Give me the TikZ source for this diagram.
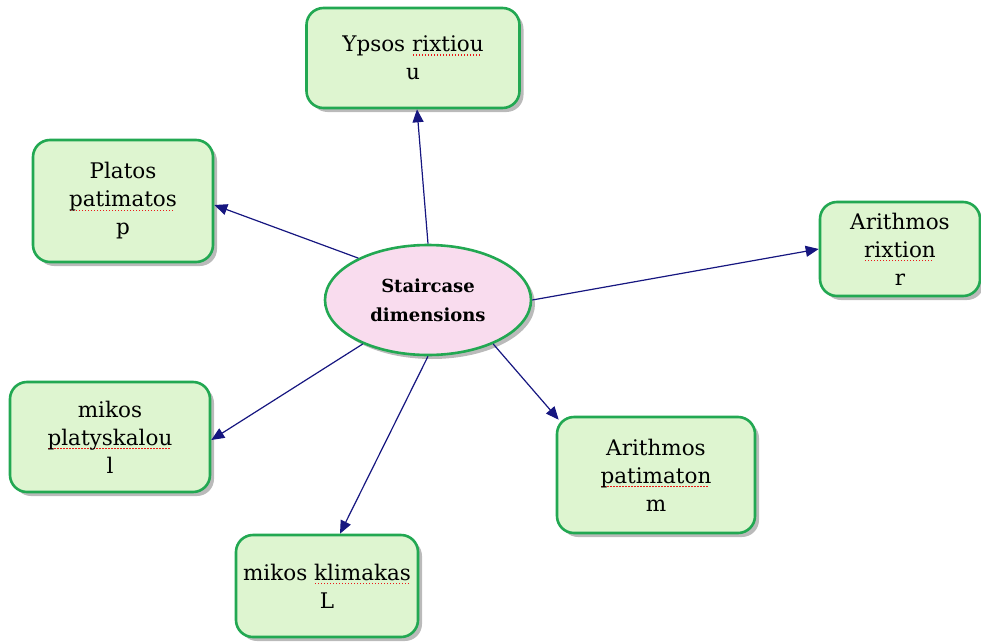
\documentclass[tikz,border=0pt]{standalone}
\usepackage{fontspec}
\setmainfont{DejaVu Serif}
\usetikzlibrary{shapes.geometric,shadows,arrows.meta}

\definecolor{boxgreen}{RGB}{34,168,82}
\definecolor{boxfill}{RGB}{222,245,208}
\definecolor{hubfill}{RGB}{249,220,238}
\definecolor{linkblue}{RGB}{22,22,128}
\definecolor{spellred}{RGB}{235,25,25}

% red dotted spelling mark under a word
\newcommand\spellmark[1]{%
  \setbox0\hbox{#1}%
  \rlap{\raisebox{-4pt}{\hbox to \wd0{\leaders\hbox to 3pt{\hss\textcolor{spellred}{\rule{1.4pt}{1.4pt}}\hss}\hfill}}}%
  \box0}

\tikzset{
  topic/.style={draw=boxgreen, line width=2.6pt, fill=boxfill, rounded corners=17pt,
    align=center, font=\fontsize{21.5}{28}\selectfont, inner sep=0pt,
    drop shadow={shadow xshift=4pt, shadow yshift=-4pt, opacity=.45, fill=black!60}},
  hub/.style={ellipse, draw=boxgreen, line width=2.6pt, fill=hubfill, align=center,
    font=\fontsize{18}{29}\selectfont\bfseries, inner sep=0pt,
    drop shadow={shadow xshift=4pt, shadow yshift=-4pt, opacity=.45, fill=black!60}},
  link/.style={draw=linkblue, line width=1.2pt, -{Triangle[length=13pt,width=11pt]}},
}

\begin{document}
\begin{tikzpicture}[x=1pt,y=-1pt]
\useasboundingbox (0,0) rectangle (981,642);

\node[hub, minimum width=206pt, minimum height=110pt] (c) at (428,300) {Staircase\\dimensions};

\node[topic, minimum width=213pt, minimum height=100pt] (u) at (413,58) {Ypsos \spellmark{rixtiou}\\u};
\node[topic, minimum width=180pt, minimum height=122pt] (p) at (123,201) {Platos\\\spellmark{patimatos}\\p};
\node[topic, minimum width=160pt, minimum height=94pt] (r) at (900,249) {Arithmos\\\spellmark{rixtion}\\r};
\node[topic, minimum width=200pt, minimum height=110pt] (l) at (110,437) {mikos\\\spellmark{platyskalou}\\l};
\node[topic, minimum width=198pt, minimum height=116pt] (m) at (656,475) {Arithmos\\\spellmark{patimaton}\\m};
\node[topic, minimum width=182pt, minimum height=102pt] (L) at (327,586) {mikos \spellmark{klimakas}\\L};

\draw[link] (c.north) -- ([xshift=4pt]u.south);
\draw[link] (c.149) -- ([yshift=-4pt]p.east);
\draw[link] (c.east) -- (r.west);
\draw[link] (c.214) -- ([yshift=-3pt]l.east);
\draw[link] (c.326) -- ([xshift=3pt,yshift=-4pt]m.north west);
\draw[link] (c.south) -- ([xshift=13pt]L.north);
\end{tikzpicture}
\end{document}
